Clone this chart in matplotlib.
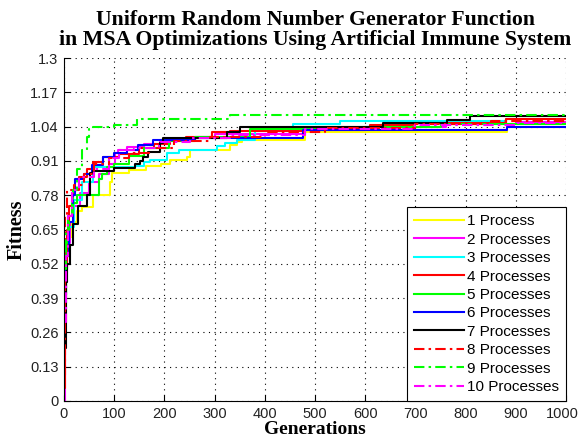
import matplotlib
matplotlib.use("Agg")
import matplotlib.pyplot as plt
from matplotlib.transforms import ScaledTranslation
import numpy as np

labels = ["1 Process", "2 Processes", "3 Processes", "4 Processes", "5 Processes",
          "6 Processes", "7 Processes", "8 Processes", "9 Processes", "10 Processes"]
colors = ["#ffff00", "#ff00ff", "#00ffff", "#ff0000", "#00ff00",
          "#0000ff", "#000000", "#ff0000", "#00ff00", "#ff00ff"]
styles = ["-", "-", "-", "-", "-", "-", "-", "dashdot", "dashdot", "dashdot"]

# step breakpoints (generation, fitness)
gens_1 = [0, 3, 8, 15, 25, 36, 58, 92, 96, 130, 163, 193, 211, 245, 251, 331, 345, 355, 480, 882, 1000]
fit_1 = [0.30, 0.55, 0.62, 0.68, 0.72, 0.735, 0.78, 0.83, 0.865, 0.875, 0.89, 0.90, 0.913, 0.925, 0.95, 0.97, 0.98, 0.99, 1.018, 1.04, 1.04]

gens_2 = [0, 2, 6, 12, 20, 32, 50, 70, 90, 101, 108, 125, 160, 191, 260, 300, 480, 600, 760, 900, 1000]
fit_2 = [0.0, 0.45, 0.60, 0.68, 0.74, 0.79, 0.83, 0.86, 0.90, 0.94, 0.95, 0.963, 0.975, 0.99, 1.0, 1.012, 1.027, 1.04, 1.05, 1.058, 1.058]

gens_3 = [0, 4, 10, 20, 35, 58, 141, 160, 171, 205, 230, 304, 320, 345, 380, 456, 550, 880, 1000]
fit_3 = [0.35, 0.55, 0.66, 0.76, 0.83, 0.885, 0.89, 0.905, 0.913, 0.94, 0.95, 0.965, 0.977, 0.99, 1.035, 1.05, 1.063, 1.07, 1.07]

gens_4 = [0, 2, 5, 10, 18, 30, 45, 58, 78, 110, 150, 180, 211, 244, 295, 330, 480, 610, 696, 880, 1000]
fit_4 = [0.05, 0.50, 0.65, 0.74, 0.80, 0.85, 0.88, 0.905, 0.925, 0.935, 0.96, 0.975, 0.99, 1.0, 1.02, 1.025, 1.03, 1.045, 1.055, 1.07, 1.07]

gens_5 = [0, 3, 8, 15, 25, 70, 75, 85, 100, 130, 160, 210, 260, 370, 500, 750, 1000]
fit_5 = [0.40, 0.60, 0.70, 0.75, 0.78, 0.84, 0.86, 0.885, 0.90, 0.93, 0.96, 0.985, 1.0, 1.03, 1.04, 1.05, 1.05]

gens_6 = [0, 4, 10, 18, 22, 40, 56, 78, 100, 125, 148, 178, 260, 476, 882, 1000]
fit_6 = [0.40, 0.55, 0.68, 0.78, 0.84, 0.86, 0.895, 0.925, 0.94, 0.95, 0.97, 0.99, 0.997, 1.027, 1.04, 1.04]

gens_7 = [0, 3, 6, 12, 18, 28, 45, 52, 58, 100, 141, 151, 157, 167, 191, 198, 325, 350, 636, 763, 809, 1000]
fit_7 = [0.20, 0.45, 0.52, 0.59, 0.67, 0.74, 0.78, 0.865, 0.87, 0.883, 0.90, 0.91, 0.925, 0.944, 0.978, 0.997, 1.02, 1.04, 1.054, 1.065, 1.08, 1.08]

gens_8 = [0, 2, 5, 20, 40, 60, 90, 130, 170, 220, 290, 400, 520, 700, 850, 1000]
fit_8 = [0.10, 0.70, 0.80, 0.82, 0.86, 0.90, 0.92, 0.94, 0.96, 0.985, 1.0, 1.02, 1.035, 1.05, 1.06, 1.06]

gens_9 = [0, 3, 10, 18, 25, 35, 45, 50, 58, 100, 145, 331, 1000]
fit_9 = [0.50, 0.65, 0.70, 0.80, 0.88, 0.95, 1.0, 1.03, 1.04, 1.045, 1.069, 1.084, 1.084]

gens_10 = [0, 3, 8, 15, 30, 60, 90, 110, 140, 190, 250, 330, 480, 700, 900, 1000]
fit_10 = [0.30, 0.55, 0.70, 0.80, 0.85, 0.88, 0.92, 0.95, 0.96, 0.98, 0.995, 1.01, 1.03, 1.045, 1.055, 1.055]

all_gens = [gens_1, gens_2, gens_3, gens_4, gens_5, gens_6, gens_7, gens_8, gens_9, gens_10]
all_fits = [fit_1, fit_2, fit_3, fit_4, fit_5, fit_6, fit_7, fit_8, fit_9, fit_10]

xticks = [0, 100, 200, 300, 400, 500, 600, 700, 800, 900, 1000]
yticks = [0, 0.13, 0.26, 0.39, 0.52, 0.65, 0.78, 0.91, 1.04, 1.17, 1.3]
ytick_labels = ["0", "0.13", "0.26", "0.39", "0.52", "0.65", "0.78", "0.91", "1.04", "1.17", "1.3"]

fig = plt.figure(figsize=(5.8, 4.42), dpi=100)
ax = fig.add_axes([64 / 580, 1 - 401 / 442, (566 - 64) / 580, (401 - 58) / 442])

for g, f, c, s, lab in zip(all_gens, all_fits, colors, styles, labels):
    ls = (0, (5, 2, 1.2, 2)) if s == "dashdot" else "-"
    ax.plot(g, f, drawstyle="steps-post", color=c, linestyle=ls, linewidth=1.5, label=lab)

ax.set_xlim(0, 1000)
ax.set_ylim(0, 1.3)
ax.set_xticks(xticks)
ax.set_yticks(yticks)
ax.set_yticklabels(ytick_labels)
ax.grid(True, color="black", linestyle=(0, (1, 4)), linewidth=0.8)
ax.spines["top"].set_visible(False)
ax.spines["right"].set_visible(False)
for sp in ["left", "bottom"]:
    ax.spines[sp].set_linewidth(0.8)
ax.tick_params(direction="in", length=4, width=0.8, labelsize=10.5, pad=4)
for t in ax.get_xticklabels() + ax.get_yticklabels():
    t.set_fontfamily("Liberation Sans")
    t.set_color("#222222")
last = ax.get_xticklabels()[-1]
last.set_transform(last.get_transform() + ScaledTranslation(-4 / 100, 0, fig.dpi_scale_trans))

serif = "Liberation Serif"
ax.set_xlabel("Generations", fontfamily=serif, fontweight="bold", fontsize=14, labelpad=0.5)
ax.set_ylabel("Fitness", fontfamily=serif, fontweight="bold", fontsize=14.5, labelpad=2)
ax.set_title("Uniform Random Number Generator Function\nin MSA Optimizations Using Artificial Immune System",
             fontfamily=serif, fontweight="bold", fontsize=15.7, pad=9, linespacing=1.05)

leg = ax.legend(loc="lower right", borderaxespad=0, fancybox=False, framealpha=1,
                edgecolor="black", handlelength=3.3, handletextpad=0.2,
                labelspacing=0.29, borderpad=0.45, prop={"family": "Liberation Sans", "size": 11})
leg.get_frame().set_linewidth(0.8)

fig.savefig("out.png", dpi=100)
